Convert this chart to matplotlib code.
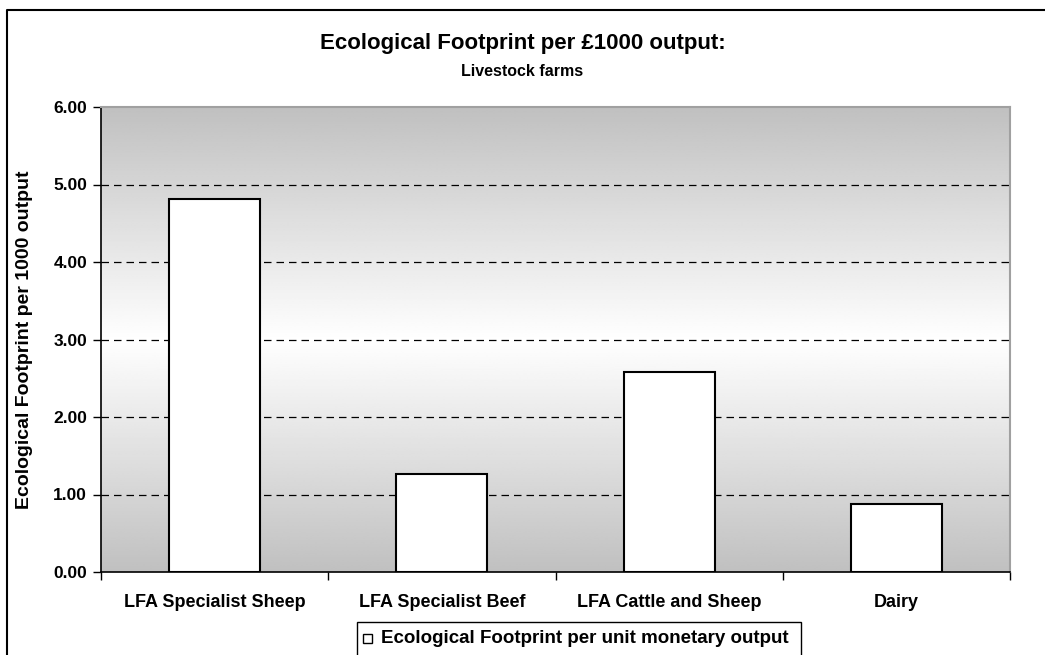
import numpy as np
import matplotlib
matplotlib.use("Agg")
import matplotlib.pyplot as plt
from matplotlib.patches import Rectangle
from matplotlib.lines import Line2D

categories = ["LFA Specialist Sheep", "LFA Specialist Beef", "LFA Cattle and Sheep", "Dairy"]
values = [4.81, 1.27, 2.58, 0.88]
yticks = [0, 1, 2, 3, 4, 5, 6]
ytick_labels = ["0.00", "1.00", "2.00", "3.00", "4.00", "5.00", "6.00"]
title = "Ecological Footprint per £1000 output:"
subtitle = "Livestock farms"
ylabel = "Ecological Footprint per 1000 output"
legend_label = "Ecological Footprint per unit monetary output"

plt.rcParams['font.family'] = ['Liberation Sans', 'DejaVu Sans']
plt.rcParams['font.weight'] = 'bold'

W, H = 1045, 655
fig = plt.figure(figsize=(W / 100, H / 100), dpi=100)

def fx(px):
    return px / W

def fy(py):
    return 1 - py / H

L, R, T, B = 101, 1010, 107, 572
ax = fig.add_axes([fx(L), fy(B), fx(R) - fx(L), fy(T) - fy(B)])

x = np.arange(len(categories))
ax.set_xlim(-0.5, len(categories) - 0.5)
ax.set_ylim(0, 6)

# gradient background gray-white-gray
t = np.linspace(0, 1, 256)
g = 192 + (255 - 192) * (1 - np.abs(t - 0.5) * 2)
grad = np.repeat((g / 255.0)[:, None], 2, axis=1)
ax.imshow(grad, cmap='gray', vmin=0, vmax=1, aspect='auto',
          extent=[-0.5, len(categories) - 0.5, 0, 6], origin='lower', zorder=0,
          interpolation='bilinear')

for yv in yticks[1:-1]:
    ax.axhline(yv, color='black', lw=0.9, linestyle=(0, (6, 4)), zorder=1)

ax.bar(x, values, width=0.4, color='white', edgecolor='black', linewidth=1.5, zorder=2)

ax.set_yticks(yticks)
ax.set_yticklabels(ytick_labels, fontsize=12.5, fontweight='bold')
ax.set_xticks(x)
ax.set_xticklabels(categories, fontsize=13, fontweight='bold')
ax.tick_params(axis='x', length=0, pad=16)
ax.tick_params(axis='y', length=6, width=1, direction='out', pad=4)
ax.set_xticks(np.arange(-0.5, len(categories) + 0.5, 1), minor=True)
ax.tick_params(axis='x', which='minor', length=6, width=1, direction='out', color='black')

for s in ['left', 'bottom']:
    ax.spines[s].set_color('black')
    ax.spines[s].set_linewidth(1.2)
for s in ['top', 'right']:
    ax.spines[s].set_color('#a0a0a0')
    ax.spines[s].set_linewidth(1.5)

fig.text(fx(25), fy(340), ylabel, rotation=90, ha='center', va='center',
         fontsize=14, fontweight='bold')

fig.text(0.5, fy(44), title, ha='center', va='center', fontsize=16, fontweight='bold')
fig.text(0.5, fy(72), subtitle, ha='center', va='center', fontsize=11.5, fontweight='bold')

# outer chart border (partially visible)
fig.add_artist(Line2D([fx(7), fx(7), fx(W + 5)], [fy(H + 5), fy(10), fy(10)],
                      color='black', lw=1.5))

# legend box
fig.add_artist(Rectangle((fx(357), fy(H + 10)), fx(801) - fx(357), fy(622) - fy(H + 10),
                         facecolor='white', edgecolor='black', lw=1))
fig.add_artist(Rectangle((fx(363), fy(643)), fx(372) - fx(363), fy(634) - fy(643),
                         facecolor='white', edgecolor='black', lw=1))
fig.text(fx(381), fy(638.5), legend_label, ha='left', va='center', fontsize=13.5, fontweight='bold')

fig.savefig("out.png", dpi=100)
